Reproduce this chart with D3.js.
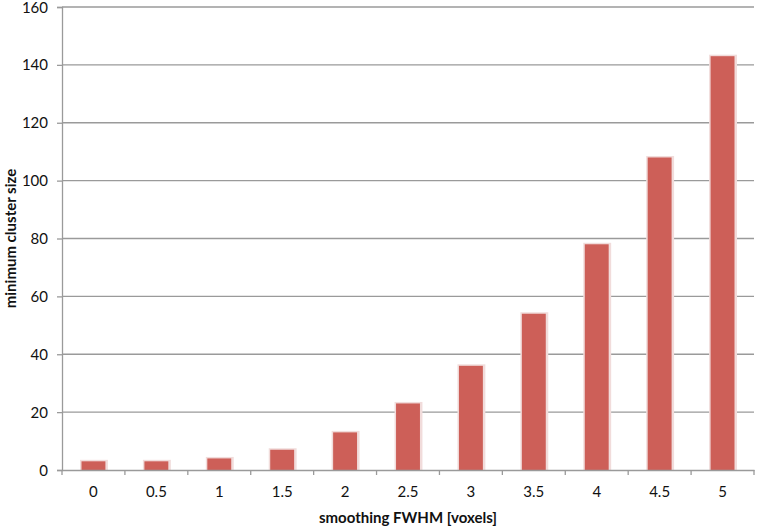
<!DOCTYPE html>
<html lang="en">
<head>
  <meta charset="UTF-8">
  <script src="https://d3js.org/d3.v7.min.js"></script>
  <title>minimum cluster size</title>
  <style>
    body { margin: 0; background: #fff; }
    text { font-family: Lato, "Open Sans", "Liberation Sans", sans-serif; fill: #111; }
  </style>
</head>
<body>
<script>
  // data
  const fwhm = ["0", "0.5", "1", "1.5", "2", "2.5", "3", "3.5", "4", "4.5", "5"]
  const clusterSize = [3, 3, 4, 7, 13, 23, 36, 54, 78, 108, 143]
  const yTicks = [0, 20, 40, 60, 80, 100, 120, 140, 160]

  const width = 758
  const height = 529
  const mLeft = 62, mRight = 754, mTop = 7, mBottom = 470

  let svg = d3.select("body").append("svg")
    .attr("width", width)
    .attr("height", height)

  let x = d3.scaleBand().domain(fwhm).range([mLeft, mRight]).paddingInner(0).paddingOuter(0)
  let y = d3.scaleLinear().domain([0, 160]).range([mBottom, mTop])

  // gridlines
  svg.append("g").selectAll("line")
    .data(yTicks.filter(d => d > 0))
    .enter().append("line")
    .attr("x1", mLeft).attr("x2", mRight)
    .attr("y1", d => y(d)).attr("y2", d => y(d))
    .attr("stroke", "#9a9a9a").attr("stroke-width", 1.3)

  // bars (with a soft light shadow like the original)
  let bw = x.bandwidth() * 0.38
  let bars = svg.append("g")
  bars.selectAll("rect.shadow")
    .data(clusterSize)
    .enter().append("rect")
    .attr("class", "shadow")
    .attr("x", (d, i) => x(fwhm[i]) + x.bandwidth() / 2 - bw / 2 - 1.5)
    .attr("y", d => y(d) - 1.5)
    .attr("width", bw + 4)
    .attr("height", d => mBottom - y(d) + 1.5)
    .attr("fill", "#f1dcdb")
  bars.selectAll("rect.bar")
    .data(clusterSize)
    .enter().append("rect")
    .attr("class", "bar")
    .attr("x", (d, i) => x(fwhm[i]) + x.bandwidth() / 2 - bw / 2)
    .attr("y", d => y(d))
    .attr("width", bw)
    .attr("height", d => mBottom - y(d))
    .attr("fill", "#cd5f58")

  // y axis
  let yAxis = svg.append("g")
    .attr("transform", `translate(${mLeft},0)`)
    .call(d3.axisLeft(y).tickValues(yTicks).tickSize(5).tickPadding(9))
  yAxis.select(".domain").attr("stroke", "#9a9a9a").attr("stroke-width", 1.3)
  yAxis.selectAll(".tick line").attr("stroke", "#9a9a9a").attr("stroke-width", 1.3)
  yAxis.selectAll("text").style("font-size", "15px").attr("fill", "#111").attr("dy", "0.34em")

  // x axis
  let xAxis = svg.append("g")
    .attr("transform", `translate(0,${mBottom})`)
    .call(d3.axisBottom(x).tickSize(0).tickPadding(16))
  xAxis.select(".domain").attr("stroke", "#9a9a9a").attr("stroke-width", 1.3)
  xAxis.selectAll("text").style("font-size", "15px").attr("fill", "#111")
  // tick marks between categories
  xAxis.append("g").selectAll("line")
    .data(fwhm.concat(["end"]))
    .enter().append("line")
    .attr("x1", (d, i) => mLeft + i * x.step())
    .attr("x2", (d, i) => mLeft + i * x.step())
    .attr("y1", 0).attr("y2", 5)
    .attr("stroke", "#9a9a9a").attr("stroke-width", 1.3)

  // axis titles
  svg.append("text")
    .attr("x", (mLeft + mRight) / 2).attr("y", 523)
    .attr("text-anchor", "middle")
    .style("font-size", "15px").style("font-weight", "bold")
    .text("smoothing FWHM [voxels]")
  svg.append("text")
    .attr("transform", `translate(16,${(mTop + mBottom) / 2}) rotate(-90)`)
    .attr("text-anchor", "middle")
    .style("font-size", "15px").style("font-weight", "bold")
    .text("minimum cluster size")
</script>
</body>
</html>
